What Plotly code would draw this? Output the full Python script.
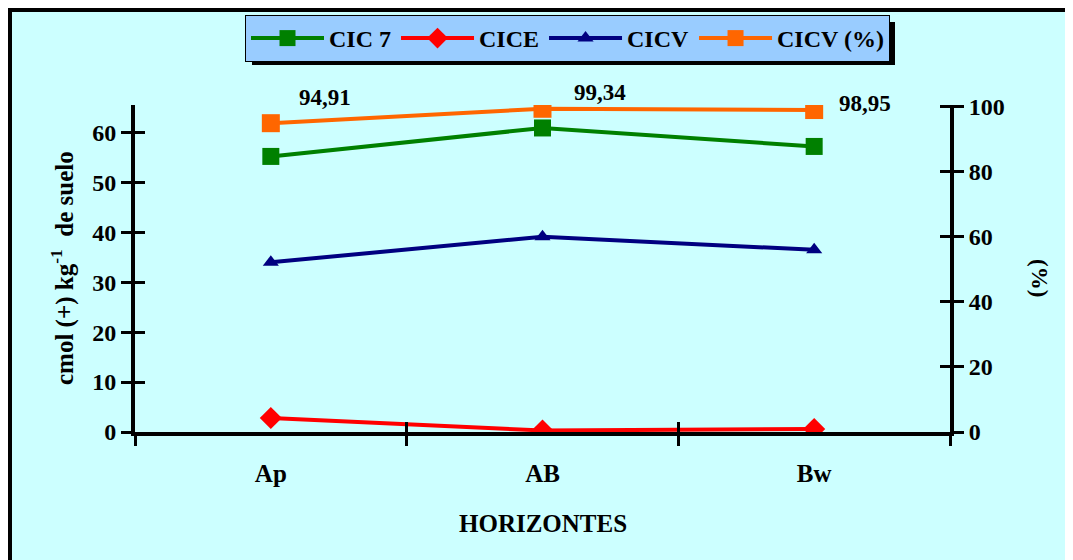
import plotly.graph_objects as go

categories = ["Ap", "AB", "Bw"]
cic7 = [55.2, 60.9, 57.2]
cice = [2.8, 0.3, 0.6]
cicv = [34.0, 39.1, 36.5]
cicv_pct = [94.91, 99.34, 98.95]
cicv_pct_labels = ["94,91", "99,34", "98,95"]

# pixel offsets for data labels (style)
label_shifts = [(54, 26), (57, 16), (51, 7)]

# page has an 8px body margin; work in page pixel coords
OFF = 8
W, H = 1073 - OFF, 560 - OFF
PL, PR, PT, PB = 135, 950, 105, 432          # plot area in page pixels
L, R, T, B = PL - OFF, W - (PR - OFF), PT - OFF, H - (PB - OFF)
pw, ph = PR - PL, PB - PT

def px_x(p):
    return (p - PL) / pw

def px_y(p):
    return (PB - p) / ph

FONT = "Liberation Serif"
xs = list(range(len(categories)))

fig = go.Figure()
fig.add_trace(go.Scatter(x=xs, y=cic7, name="CIC 7", mode="lines+markers",
                         line=dict(color="#008000", width=4),
                         marker=dict(symbol="square", size=17, color="#008000")))
fig.add_trace(go.Scatter(x=xs, y=cice, name="CICE", mode="lines+markers",
                         line=dict(color="#FF0000", width=4),
                         marker=dict(symbol="diamond", size=17, color="#FF0000")))
fig.add_trace(go.Scatter(x=xs, y=cicv, name="CICV", mode="lines+markers",
                         line=dict(color="#000080", width=4),
                         marker=dict(symbol="triangle-up", size=14, color="#000080")))
fig.add_trace(go.Scatter(x=xs, y=cicv_pct, name="CICV (%)", mode="lines+markers",
                         yaxis="y2",
                         line=dict(color="#FF6600", width=4),
                         marker=dict(symbol="square", size=18, color="#FF6600")))

for i, (v, t) in enumerate(zip(cicv_pct, cicv_pct_labels)):
    fig.add_annotation(x=xs[i], y=v, xref="x", yref="y2", text=t, showarrow=False,
                       xshift=label_shifts[i][0], yshift=label_shifts[i][1],
                       font=dict(family=FONT, size=23, color="black", weight="bold"))

bounds = [x - 0.5 for x in xs] + [xs[-1] + 0.5]
tickfont = dict(family=FONT, size=24, color="black", weight="bold")
xtickfont = dict(family=FONT, size=25, color="black", weight="bold")

fig.update_layout(
    width=W, height=H,
    margin=dict(l=L, r=R, t=T, b=B, autoexpand=False),
    paper_bgcolor="white", plot_bgcolor="#CCFFFF",
    showlegend=True,
    legend=dict(orientation="h", x=px_x(245), xanchor="left", y=px_y(15), yanchor="top",
                bgcolor="#99CCFF", bordercolor="black", borderwidth=1,
                font=dict(family=FONT, size=24, color="black", weight="bold"),
                itemwidth=73, tracegroupgap=0),
    xaxis=dict(range=[-0.5, 2.5], tickmode="array", tickvals=xs, ticktext=categories,
               ticks="outside", ticklen=16, tickcolor="rgba(0,0,0,0)",
               tickfont=xtickfont, showgrid=False, zeroline=False,
               showline=True, linecolor="black", linewidth=4,
               minor=dict(tickmode="array", tickvals=bounds, ticks="outside", ticklen=10,
                          tickwidth=3, tickcolor="black", showgrid=False),
               anchor="y"),
    xaxis2=dict(range=[-0.5, 2.5], overlaying="x", side="bottom", anchor="y",
                tickmode="array", tickvals=bounds, ticks="inside", ticklen=10,
                tickwidth=3, tickcolor="black", showticklabels=False,
                showgrid=False, zeroline=False, showline=False),
    yaxis=dict(range=[0, 65.5], tickmode="array", tickvals=[0, 10, 20, 30, 40, 50, 60],
               ticks="outside", ticklen=10, tickwidth=3, tickcolor="black",
               tickfont=tickfont, showgrid=False, zeroline=False,
               showline=True, linecolor="black", linewidth=4, anchor="x"),
    yaxis3=dict(range=[0, 65.5], overlaying="y", side="left", anchor="x",
                tickmode="array", tickvals=[0, 10, 20, 30, 40, 50, 60],
                ticks="inside", ticklen=10, tickwidth=3, tickcolor="black",
                showticklabels=False, showgrid=False, zeroline=False, showline=False),
    yaxis2=dict(range=[0, 100.5], overlaying="y", side="right", anchor="x",
                tickmode="array", tickvals=[0, 20, 40, 60, 80, 100],
                ticks="outside", ticklen=10, tickwidth=3, tickcolor="black",
                tickfont=tickfont, showgrid=False, zeroline=False,
                showline=True, linecolor="black", linewidth=4),
    yaxis4=dict(range=[0, 100.5], overlaying="y", side="right", anchor="x",
                tickmode="array", tickvals=[0, 20, 40, 60, 80, 100],
                ticks="inside", ticklen=10, tickwidth=3, tickcolor="black",
                showticklabels=False, showgrid=False, zeroline=False, showline=False),
)

# markerless traces so the overlay axes get drawn
fig.add_trace(go.Scatter(x=xs, y=cic7, xaxis="x2", yaxis="y3", mode="none",
                         showlegend=False, hoverinfo="skip"))
fig.add_trace(go.Scatter(x=xs, y=cicv_pct, xaxis="x2", yaxis="y4", mode="none",
                         showlegend=False, hoverinfo="skip"))

# outer frame (cyan chart area with black border)
fig.add_shape(type="rect", xref="paper", yref="paper", layer="below",
              x0=px_x(8), x1=px_x(1100), y0=px_y(600), y1=px_y(8),
              fillcolor="#CCFFFF", line=dict(color="black", width=8))
# legend shadow
fig.add_shape(type="rect", xref="paper", yref="paper", layer="above",
              x0=px_x(252), x1=px_x(895), y0=px_y(65), y1=px_y(22),
              fillcolor="#000000", line=dict(width=0))

titlefont = dict(family=FONT, size=25, color="black", weight="bold")
fig.add_annotation(xref="paper", yref="paper", x=px_x(543), y=px_y(523),
                   xanchor="center", yanchor="middle",
                   text="HORIZONTES", showarrow=False, font=titlefont)
fig.add_annotation(xref="paper", yref="paper", x=px_x(62), y=px_y(268),
                   xanchor="center", yanchor="middle",
                   text="cmol (+) kg<sup>-1</sup>  de suelo", textangle=-90,
                   showarrow=False, font=titlefont)
fig.add_annotation(xref="paper", yref="paper", x=px_x(1040), y=px_y(278),
                   xanchor="center", yanchor="middle",
                   text="(%)", textangle=90, showarrow=False,
                   font=dict(family=FONT, size=23, color="black", weight="bold"))

fig.write_html("out.html")
